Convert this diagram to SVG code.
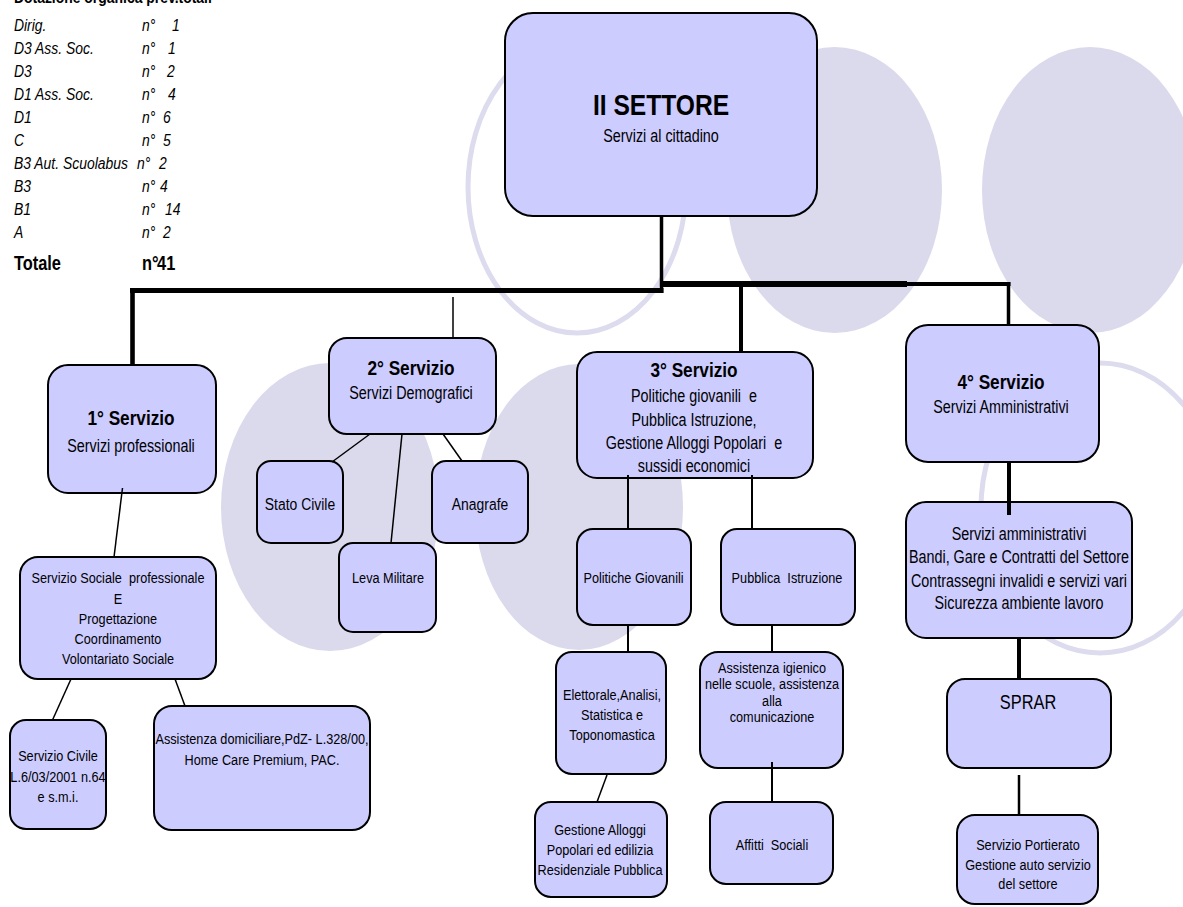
<svg xmlns="http://www.w3.org/2000/svg" width="1183" height="907" viewBox="0 0 1183 907">
<style>
text{font-family:"Liberation Sans",Arial,sans-serif;fill:#000;white-space:pre}
.c{text-anchor:middle}
.b{font-weight:bold}
.i{font-style:italic}
.box{fill:#ccccff;stroke:#000;stroke-width:2}
.bg{fill:#dbdaec;stroke:none}
.ring{fill:none;stroke:#dddcee;stroke-width:5}
.ln{fill:none;stroke:#000;stroke-linecap:butt}
.s155{font-size:15.5px}
.s17{font-size:17px}
.s175{font-size:17.5px}
.s21{font-size:21px}
</style>
<rect width="1183" height="907" fill="#fff"/>
<g id="background">
<ellipse class="ring" cx="577" cy="187" rx="109" ry="146"/>
<ellipse class="bg" cx="834.5" cy="190" rx="107.5" ry="143"/>
<ellipse class="bg" cx="1090" cy="190" rx="108" ry="143"/>
<ellipse class="bg" cx="330" cy="507" rx="109" ry="144"/>
<ellipse class="bg" cx="579" cy="507" rx="104" ry="143"/>
<ellipse class="ring" cx="1100" cy="508" rx="119" ry="145"/>
</g>
<g id="legend" transform="scale(0.82 1)">
<text class="b" x="17" y="3" font-size="17">Dotazione organica prev.totali</text>
<g class="i" font-size="17">
<text x="17" y="31.5">Dirig.</text><text x="173.2" y="31.5">n°</text><text x="209.8" y="31.5">1</text>
<text x="17" y="54.4">D3 Ass. Soc.</text><text x="173.2" y="54.4">n°</text><text x="204.9" y="54.4">1</text>
<text x="17" y="77.3">D3</text><text x="173.2" y="77.3">n°</text><text x="203.7" y="77.3">2</text>
<text x="17" y="100.2">D1 Ass. Soc.</text><text x="173.2" y="100.2">n°</text><text x="204.9" y="100.2">4</text>
<text x="17" y="123.1">D1</text><text x="173.2" y="123.1">n°</text><text x="198.8" y="123.1">6</text>
<text x="17" y="146">C</text><text x="173.2" y="146">n°</text><text x="198.8" y="146">5</text>
<text x="17" y="168.9">B3 Aut. Scuolabus</text><text x="167.1" y="168.9">n°</text><text x="193.9" y="168.9">2</text>
<text x="17" y="191.8">B3</text><text x="173.2" y="191.8">n°</text><text x="195.1" y="191.8">4</text>
<text x="17" y="214.7">B1</text><text x="173.2" y="214.7">n°</text><text x="201.2" y="214.7">14</text>
<text x="17" y="237.6">A</text><text x="173.2" y="237.6">n°</text><text x="198.8" y="237.6">2</text>
</g>
<g class="b" font-size="20">
<text x="17" y="270">Totale</text><text x="173.2" y="270">n°</text><text x="191.5" y="270">41</text>
</g>
</g>
<g id="nodes">
<g id="settore">
<rect class="box" x="505" y="13" width="312" height="203" rx="28"/>
<g transform="translate(661 0) scale(0.82 1)">
<text class="c b" y="115" font-size="30">II SETTORE</text>
<text class="c s175" y="142">Servizi al cittadino</text>
</g>
</g>
<g id="servizio1">
<rect class="box" x="48" y="365" width="168" height="128" rx="20"/>
<g transform="translate(131 0) scale(0.82 1)">
<text class="c b s21" y="425">1° Servizio</text>
<text class="c s175" y="452">Servizi professionali</text>
</g>
</g>
<g id="servizio2">
<rect class="box" x="329" y="338" width="167" height="96" rx="18"/>
<g transform="translate(411 0) scale(0.82 1)">
<text class="c b s21" y="375">2° Servizio</text>
<text class="c s175" y="399">Servizi Demografici</text>
</g>
</g>
<g id="stato-civile">
<rect class="box" x="257" y="461" width="86" height="82" rx="14"/>
<g transform="translate(300 0) scale(0.82 1)"><text class="c s17" y="510">Stato Civile</text></g>
</g>
<g id="anagrafe">
<rect class="box" x="432" y="461" width="96" height="82" rx="14"/>
<g transform="translate(480 0) scale(0.82 1)"><text class="c s17" y="510">Anagrafe</text></g>
</g>
<g id="leva">
<rect class="box" x="339" y="543" width="97" height="89" rx="14"/>
<g transform="translate(388 0) scale(0.82 1)"><text class="c s155" y="583">Leva Militare</text></g>
</g>
<g id="sociale">
<rect class="box" x="20" y="557" width="196" height="122" rx="18"/>
<g transform="translate(118 0) scale(0.82 1)" class="s155">
<text class="c" y="583">Servizio Sociale  professionale</text>
<text class="c" y="604">E</text>
<text class="c" y="624">Progettazione</text>
<text class="c" y="644">Coordinamento</text>
<text class="c" y="664">Volontariato Sociale</text>
</g>
</g>
<g id="civile">
<rect class="box" x="10" y="720" width="96" height="109" rx="16"/>
<g transform="translate(58 0) scale(0.82 1)" class="s155">
<text class="c" y="761">Servizio Civile</text>
<text class="c" y="782">L.6/03/2001 n.64</text>
<text class="c" y="802">e s.m.i.</text>
</g>
</g>
<g id="domiciliare">
<rect class="box" x="154" y="706" width="216" height="124" rx="18"/>
<g transform="translate(262 0) scale(0.82 1)" class="s155">
<text class="c" y="744">Assistenza domiciliare,PdZ- L.328/00,</text>
<text class="c" y="765">Home Care Premium, PAC.</text>
</g>
</g>
<g id="servizio3">
<rect class="box" x="577" y="352" width="236" height="126" rx="20"/>
<g transform="translate(694 0) scale(0.82 1)">
<text class="c b s21" y="377">3° Servizio</text>
<text class="c s175" y="402">Politiche giovanili  e</text>
<text class="c s175" y="426">Pubblica Istruzione,</text>
<text class="c s175" y="449">Gestione Alloggi Popolari  e</text>
<text class="c s175" y="472">sussidi economici</text>
</g>
</g>
<g id="politiche">
<rect class="box" x="577" y="529" width="114" height="96" rx="16"/>
<g transform="translate(633.5 0) scale(0.82 1)"><text class="c s155" y="583">Politiche Giovanili</text></g>
</g>
<g id="istruzione">
<rect class="box" x="721" y="529" width="134" height="96" rx="16"/>
<g transform="translate(787 0) scale(0.82 1)"><text class="c s155" y="583">Pubblica  Istruzione</text></g>
</g>
<g id="elettorale">
<rect class="box" x="556" y="652" width="110" height="122" rx="16"/>
<g transform="translate(612 0) scale(0.82 1)" class="s155">
<text class="c" y="700">Elettorale,Analisi,</text>
<text class="c" y="720">Statistica e</text>
<text class="c" y="740">Toponomastica</text>
</g>
</g>
<g id="igienico">
<rect class="box" x="700" y="652" width="143" height="116" rx="18"/>
<g transform="translate(772 0) scale(0.82 1)" class="s155">
<text class="c" y="673">Assistenza igienico</text>
<text class="c" y="689">nelle scuole, assistenza</text>
<text class="c" y="706">alla</text>
<text class="c" y="722">comunicazione</text>
</g>
</g>
<g id="alloggi">
<rect class="box" x="535" y="802" width="132" height="95" rx="16"/>
<g transform="translate(600 0) scale(0.82 1)" class="s155">
<text class="c" y="835">Gestione Alloggi</text>
<text class="c" y="855">Popolari ed edilizia</text>
<text class="c" y="875">Residenziale Pubblica</text>
</g>
</g>
<g id="affitti">
<rect class="box" x="710" y="802" width="123" height="82" rx="16"/>
<g transform="translate(772 0) scale(0.82 1)"><text class="c s155" y="850">Affitti  Sociali</text></g>
</g>
<g id="servizio4">
<rect class="box" x="906" y="325" width="193" height="137" rx="22"/>
<g transform="translate(1001 0) scale(0.82 1)">
<text class="c b s21" y="389">4° Servizio</text>
<text class="c s175" y="413">Servizi Amministrativi</text>
</g>
</g>
<g id="amministrativi">
<rect class="box" x="906" y="502" width="226" height="136" rx="20"/>
<g transform="translate(1019 0) scale(0.82 1)" class="s175">
<text class="c" y="540">Servizi amministrativi</text>
<text class="c" y="563">Bandi, Gare e Contratti del Settore</text>
<text class="c" y="587">Contrassegni invalidi e servizi vari</text>
<text class="c" y="609">Sicurezza ambiente lavoro</text>
</g>
</g>
<g id="sprar">
<rect class="box" x="947" y="679" width="164" height="89" rx="18"/>
<g transform="translate(1028 0) scale(0.82 1)"><text class="c" y="709" font-size="20">SPRAR</text></g>
</g>
<g id="portierato">
<rect class="box" x="957" y="815" width="141" height="89" rx="18"/>
<g transform="translate(1028 0) scale(0.82 1)" class="s155">
<text class="c" y="850">Servizio Portierato</text>
<text class="c" y="870">Gestione auto servizio</text>
<text class="c" y="889">del settore</text>
</g>
</g>
</g>
<g id="connectors" class="ln">
<path d="M130 290.5H663.5" stroke-width="5" class="ln" stroke="#000"/>
<path d="M132.5 288V365" stroke-width="4.6" class="ln" stroke="#000"/>
<path d="M661.5 216V293" stroke-width="3.5" class="ln" stroke="#000"/>
<path d="M660 284H907" stroke-width="6" class="ln" stroke="#000"/>
<path d="M907 284H1010.5" stroke-width="4" class="ln" stroke="#000"/>
<path d="M1008.5 282V325" stroke-width="3.5" class="ln" stroke="#000"/>
<path d="M741 286V352" stroke-width="4" class="ln" stroke="#000"/>
<path d="M453 297V338" stroke-width="1.5" class="ln" stroke="#000"/>
<path d="M1009 462V515" stroke-width="4" class="ln" stroke="#000"/>
<path d="M1019 638V679" stroke-width="4" class="ln" stroke="#000"/>
<path d="M1019 775V815" stroke-width="2.5" class="ln" stroke="#000"/>
<path d="M122.5 488L114 557" stroke-width="1.5" class="ln" stroke="#000"/>
<path d="M71 679L52.5 720" stroke-width="1.5" class="ln" stroke="#000"/>
<path d="M175 679L185 706" stroke-width="1.5" class="ln" stroke="#000"/>
<path d="M370 434L332 462" stroke-width="1.5" class="ln" stroke="#000"/>
<path d="M402 434L391 543" stroke-width="1.5" class="ln" stroke="#000"/>
<path d="M443 434L462 461" stroke-width="1.5" class="ln" stroke="#000"/>
<path d="M628 475V529" stroke-width="2" class="ln" stroke="#000"/>
<path d="M752 475V529" stroke-width="2" class="ln" stroke="#000"/>
<path d="M628 625V652" stroke-width="2" class="ln" stroke="#000"/>
<path d="M772 625V652" stroke-width="2" class="ln" stroke="#000"/>
<path d="M607 775L597 802" stroke-width="1.5" class="ln" stroke="#000"/>
<path d="M772 762V802" stroke-width="2" class="ln" stroke="#000"/>
</g>
</svg>
